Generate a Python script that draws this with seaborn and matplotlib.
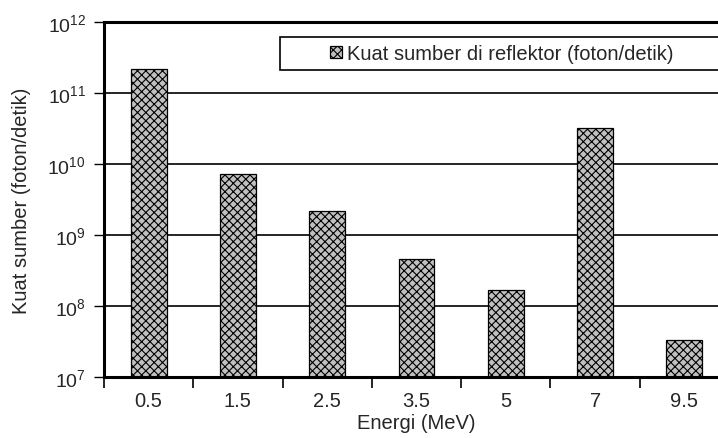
import numpy as np
import matplotlib
matplotlib.use("Agg")
import matplotlib.pyplot as plt
import matplotlib.ticker as mticker
from matplotlib.patches import Rectangle
import seaborn as sns

energi = ["0.5", "1.5", "2.5", "3.5", "5", "7", "9.5"]
kuat_sumber = [2.2e11, 7.2e9, 2.2e9, 4.6e8, 1.7e8, 3.2e10, 3.3e7]
legend_label = "Kuat sumber di reflektor (foton/detik)"

sns.set_theme(style="white")
plt.rcParams["font.family"] = ["Liberation Sans", "DejaVu Sans"]
plt.rcParams["mathtext.default"] = "regular"
plt.rcParams["hatch.linewidth"] = 0.8

fig = plt.figure(figsize=(7.18, 4.39), dpi=100)
# axes run past the right edge of the figure, like the cropped original
ax_w = 625
ax = fig.add_axes([104 / 718, 61 / 439, ax_w / 718, 355 / 439])
ax.set_yscale("log")

sns.barplot(x=energi, y=kuat_sumber, ax=ax, width=0.4, color="#c0c0c0",
            edgecolor="black", linewidth=0.9, hatch="xxxx", label=legend_label,
            legend=False)

ax.set_ylim(1e7, 1e12)
ax.set_xlim(-0.5, 6.5)

ax.yaxis.set_major_locator(mticker.LogLocator(base=10, numticks=10))
ax.yaxis.set_major_formatter(mticker.LogFormatterMathtext())
ax.yaxis.set_minor_locator(mticker.NullLocator())
ax.tick_params(axis="y", which="major", direction="out", length=7, width=1,
               color="black", labelsize=14, pad=6, left=True)
ax.grid(axis="y", color="black", linewidth=1.2)
ax.set_axisbelow(True)

ax.set_xticks(np.arange(-0.5, 7, 1))
ax.set_xticklabels([])
ax.set_xticks(np.arange(len(energi)), labels=energi, minor=True)
ax.tick_params(axis="x", which="major", direction="out", length=8, width=1.2,
               color="black", bottom=True)
ax.tick_params(axis="x", which="minor", length=0, labelsize=14.5, pad=10)

for side in ["left", "bottom", "top"]:
    ax.spines[side].set_color("black")
    ax.spines[side].set_linewidth(2.2)
ax.spines["right"].set_visible(False)

ax.set_xlabel("Energi (MeV)", fontsize=14.5, labelpad=2)
ax.set_ylabel("Kuat sumber (foton/detik)", fontsize=14.5, labelpad=12)

# legend frame drawn by hand, entry centred inside it
ax.add_patch(Rectangle((176 / ax_w, 1 - 48 / 355), 444 / ax_w, 33 / 355,
                       transform=ax.transAxes, facecolor="white",
                       edgecolor="black", linewidth=1.2, zorder=5))
leg = ax.legend(loc="center", bbox_to_anchor=(398 / ax_w, 1 - 31.5 / 355),
                frameon=False, fontsize=14.5, handlelength=0.6,
                handleheight=0.6, handletextpad=0.25)
leg.set_zorder(6)

fig.savefig("out.png", dpi=100)
